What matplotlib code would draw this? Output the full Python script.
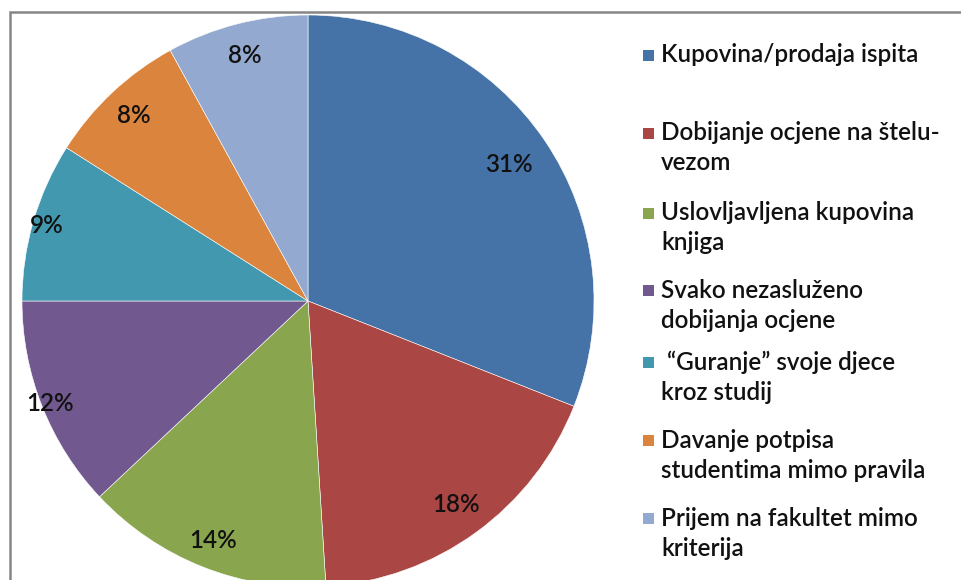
import numpy as np
import matplotlib
matplotlib.use("Agg")
import matplotlib.pyplot as plt
from matplotlib.patches import Rectangle

categories = [
    "Kupovina/prodaja ispita",
    "Dobijanje ocjene na štelu-\nvezom",
    "Uslovljavljena kupovina\nknjiga",
    "Svako nezasluženo\ndobijanja ocjene",
    " \u201cGuranje\u201d svoje djece\nkroz studij",
    "Davanje potpisa\nstudentima mimo pravila",
    "Prijem na fakultet mimo\nkriterija",
]
values = [31, 18, 14, 12, 9, 8, 8]
colors = ["#4572A7", "#AA4643", "#89A54E", "#71588F", "#4198AF", "#DB843D", "#93A9CF"]

W, H = 961, 580
fig = plt.figure(figsize=(W / 100, H / 100), dpi=100)
ax = fig.add_axes([0, 0, 1, 1])

cx, cy, R = 308, H - 301, 286
wedges, _ = ax.pie(values, colors=colors, startangle=90, counterclock=False,
                   center=(cx, cy), radius=R, frame=False,
                   wedgeprops=dict(edgecolor="white", linewidth=0.4))

label_r = [0.85, 0.88, 0.9, 0.97, 0.95, 0.89, 0.885]
for w, v, f in zip(wedges, values, label_r):
    ang = np.deg2rad((w.theta1 + w.theta2) / 2)
    ax.text(cx + f * R * np.cos(ang), cy + f * R * np.sin(ang), f"{v}%",
            ha="center", va="center", fontsize=17.5, family="Lato",
            fontweight="semibold", color="#111111")

# frame
ax.add_patch(Rectangle((10, -20), W + 20, H - 12 + 20, fill=False,
                       edgecolor="#868686", linewidth=1.8, zorder=5))

# legend
entry_y = [55, 133, 213, 290, 362, 440, 518]
for lab, col, y in zip(categories, colors, entry_y):
    ax.add_patch(Rectangle((643, H - y - 6), 11, 11, facecolor=col, edgecolor="none"))
    for i, line in enumerate(lab.split("\n")):
        ax.text(661, H - y - i * 30, line, ha="left", va="center",
                fontsize=17.5, family="Lato", fontweight="semibold",
                color="#111111")

ax.set_xlim(0, W)
ax.set_ylim(0, H)
ax.set_aspect("auto")
ax.axis("off")
fig.savefig("out.png", dpi=100)
